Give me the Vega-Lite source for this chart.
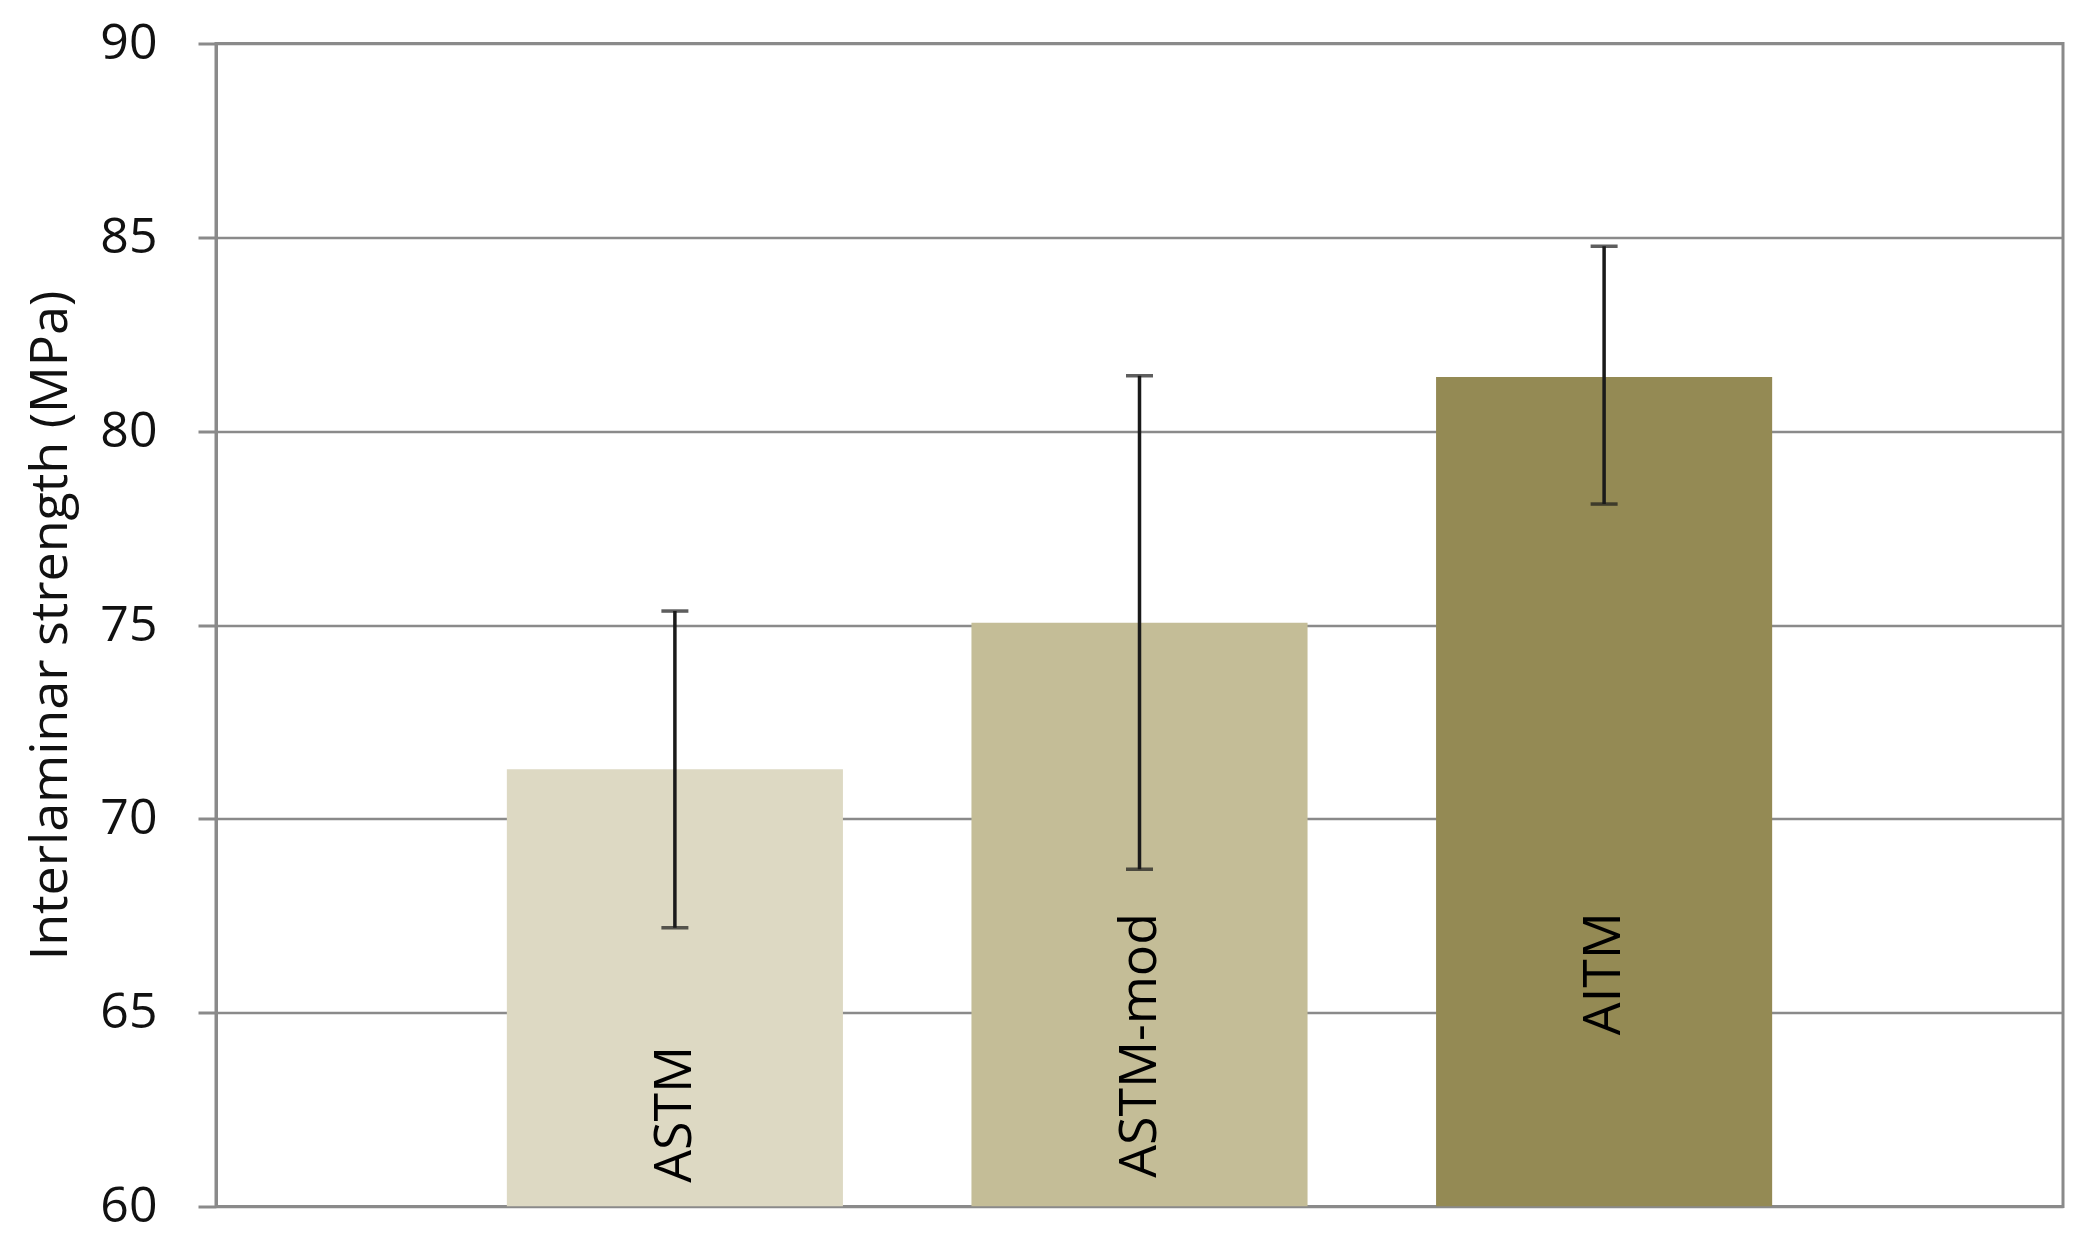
{
  "$schema": "https://vega.github.io/schema/vega-lite/v6.json",
  "autosize": {"type": "none"},
  "padding": {"left": 216, "top": 43.5, "right": 13, "bottom": 33.5},
  "width": 1847,
  "height": 1163,
  "background": "white",
  "config": {
    "view": {"stroke": "#8a8a8a", "strokeWidth": 3},
    "font": "Open Sans"
  },
  "data": {
    "values": [
      {"method": "ASTM", "strength": 71.28, "low": 67.19, "high": 75.36, "label_at": 60.61},
      {"method": "ASTM-mod", "strength": 75.06, "low": 68.70, "high": 81.43, "label_at": 60.74},
      {"method": "AITM", "strength": 81.40, "low": 78.12, "high": 84.77, "label_at": 64.42}
    ]
  },
  "encoding": {
    "x": {
      "field": "method",
      "type": "nominal",
      "sort": ["ASTM", "ASTM-mod", "AITM"],
      "scale": {"paddingInner": 0.2766, "paddingOuter": 0.626},
      "axis": null
    }
  },
  "layer": [
    {
      "mark": {"type": "bar", "clip": true},
      "encoding": {
        "y": {
          "field": "strength",
          "type": "quantitative",
          "scale": {"domain": [60, 90], "zero": false, "nice": false},
          "axis": {
            "values": [60, 65, 70, 75, 80, 85, 90],
            "title": "Interlaminar strength (MPa)",
            "titleFont": "Open Sans",
            "titleFontSize": 52,
            "titleFontWeight": "normal",
            "titleColor": "#111111",
            "titleAngle": 270,
            "titleBaseline": "middle",
            "titleAlign": "center",
            "titleX": -166,
            "titleY": 581.5,
            "labelFont": "Open Sans",
            "labelFontSize": 50,
            "labelColor": "#111111",
            "labelPadding": 41,
            "tickSize": 18,
            "tickWidth": 3,
            "tickColor": "#8a8a8a",
            "domain": true,
            "domainColor": "#8a8a8a",
            "domainWidth": 3,
            "grid": true,
            "gridColor": "#8a8a8a",
            "gridWidth": 2.5
          }
        },
        "y2": {"datum": 60},
        "color": {
          "field": "method",
          "type": "nominal",
          "scale": {"domain": ["ASTM", "ASTM-mod", "AITM"], "range": ["#DDD9C3", "#C4BD97", "#948A54"]},
          "legend": null
        }
      }
    },
    {
      "mark": {"type": "rule", "color": "#1a1a1a", "strokeWidth": 3.5},
      "encoding": {
        "y": {"field": "low", "type": "quantitative"},
        "y2": {"field": "high"}
      }
    },
    {
      "mark": {"type": "tick", "color": "#1a1a1a", "thickness": 3.5, "size": 27, "orient": "horizontal"},
      "encoding": {
        "y": {"field": "low", "type": "quantitative"}
      }
    },
    {
      "mark": {"type": "tick", "color": "#1a1a1a", "thickness": 3.5, "size": 27, "orient": "horizontal"},
      "encoding": {
        "y": {"field": "high", "type": "quantitative"}
      }
    },
    {
      "mark": {"type": "text", "angle": 270, "align": "left", "baseline": "middle", "fontSize": 52, "font": "Open Sans", "color": "#000000"},
      "encoding": {
        "y": {"field": "label_at", "type": "quantitative"},
        "text": {"field": "method"}
      }
    }
  ]
}
